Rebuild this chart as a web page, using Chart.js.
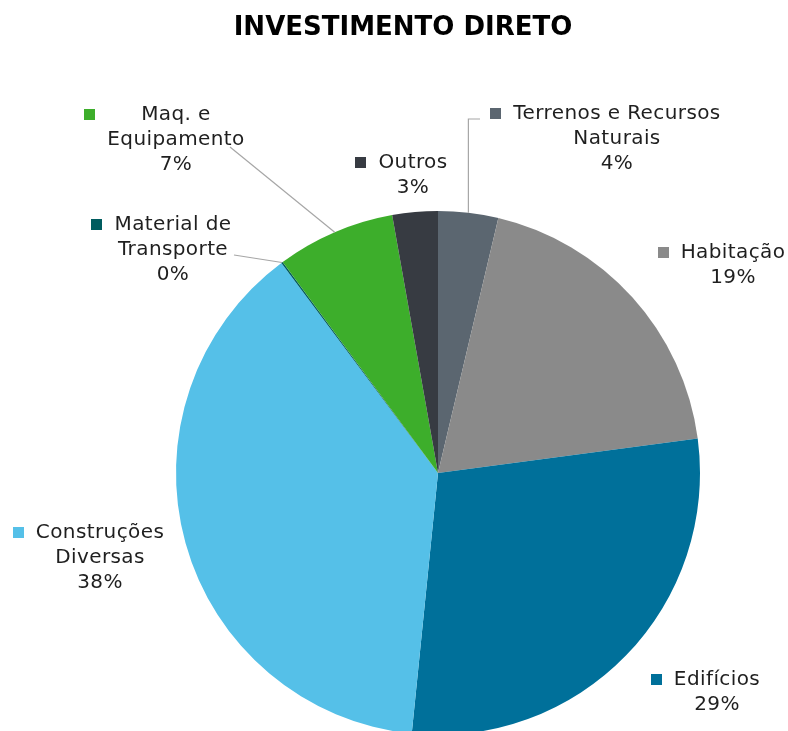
<!DOCTYPE html>
<html><head><meta charset="utf-8">
<script src="https://cdn.jsdelivr.net/npm/chart.js@4"></script>
<style>
html,body{margin:0;padding:0;background:#fff;overflow:hidden;width:788px;height:731px}
#wrap{position:relative;width:788px;height:740px}
</style></head>
<body><div id="wrap"><canvas id="c"></canvas></div>
<script>
const titleText = 'INVESTIMENTO DIRETO';
const categories = ['Terrenos e Recursos\nNaturais', 'Habitação', 'Edifícios', 'Construções\nDiversas', 'Material de\nTransporte', 'Maq. e\nEquipamento', 'Outros'];
const values = [3.7, 19.2, 28.7, 38.2, 0.1, 7.3, 2.8];
const colors = ['#5b6670', '#8a8a8a', '#00709a', '#55c0e8', '#005c5f', '#3dae2b', '#373b42'];

// label layout: text center x, first line center y, optional leader
const labelLayout = [
  {x: 617, y: 113, leader: 'elbow', sx: 480, sy: 119},
  {x: 733, y: 252},
  {x: 717, y: 679},
  {x: 100, y: 532},
  {x: 173, y: 224, leader: 'line', sx: 234, sy: 255},
  {x: 176, y: 114, leader: 'line', sx: 230, sy: 147},
  {x: 413, y: 162}
];

const FONT = '"DejaVu Sans", sans-serif';
const LABEL_SIZE = 20;
const LINE_H = 25;

const labelPlugin = {
  id: 'labelPlugin',
  afterDraw(chart) {
    const ctx = chart.ctx;
    const meta = chart.getDatasetMeta(0);
    const total = values.reduce((a, b) => a + b, 0);
    ctx.save();
    // title
    ctx.fillStyle = '#000';
    ctx.font = 'bold 26px ' + FONT;
    ctx.textAlign = 'center';
    ctx.textBaseline = 'middle';
    ctx.fillText(titleText, 403, 28);

    // leaders
    ctx.strokeStyle = '#a6a6a6';
    ctx.lineWidth = 1.2;
    labelLayout.forEach((L, i) => {
      if (!L.leader) return;
      const arc = meta.data[i];
      const mid = (arc.startAngle + arc.endAngle) / 2;
      const px = arc.x + Math.cos(mid) * arc.outerRadius;
      const py = arc.y + Math.sin(mid) * arc.outerRadius;
      ctx.beginPath();
      ctx.moveTo(L.sx, L.sy);
      if (L.leader === 'elbow') ctx.lineTo(px, L.sy);
      ctx.lineTo(px, py);
      ctx.stroke();
    });

    // labels
    ctx.font = LABEL_SIZE + 'px ' + FONT;
    if ('letterSpacing' in ctx) ctx.letterSpacing = '0.4px';
    labelLayout.forEach((L, i) => {
      const lines = categories[i].split('\n');
      lines.push(Math.round(values[i] / total * 100) + '%');
      const maxW = Math.max(...lines.map(t => ctx.measureText(t).width));
      const left = L.x - maxW / 2;
      ctx.fillStyle = colors[i];
      ctx.fillRect(Math.round(left - 23), Math.round(L.y - 5.5), 11, 11);
      ctx.fillStyle = '#1f1f1f';
      ctx.textAlign = 'center';
      lines.forEach((t, k) => ctx.fillText(t, L.x, L.y + k * LINE_H + 1));
    });
    ctx.restore();
  }
};

new Chart(document.getElementById('c'), {
  type: 'pie',
  data: {
    labels: categories,
    datasets: [{data: values, backgroundColor: colors, borderWidth: 0}]
  },
  options: {
    responsive: true,
    maintainAspectRatio: false,
    animation: false,
    layout: {padding: {top: 211, left: 176, right: 88, bottom: 5}},
    plugins: {legend: {display: false}, tooltip: {enabled: false}, title: {display: false}}
  },
  plugins: [labelPlugin]
});
</script>
</body></html>
